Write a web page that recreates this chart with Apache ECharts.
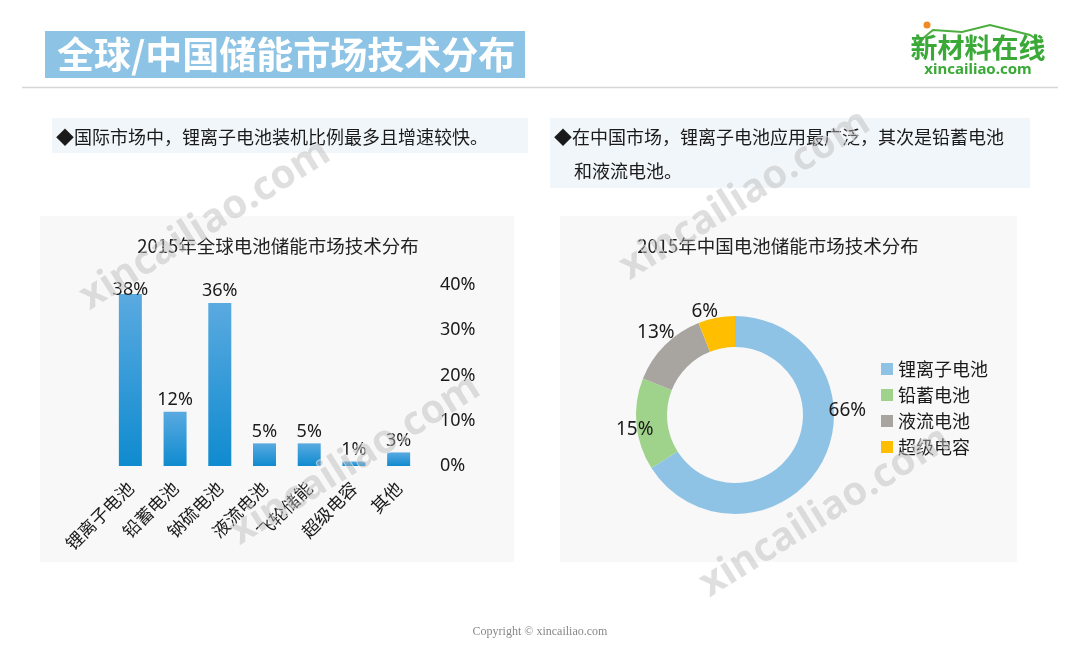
<!DOCTYPE html>
<html><head><meta charset="utf-8">
<script src="https://cdn.jsdelivr.net/npm/echarts@6/dist/echarts.min.js"></script>
<style>html,body{margin:0;padding:0;background:#fff}#c{width:1080px;height:648px}</style>
</head><body><div id="c"></div>
<script>
const pageTitle = '全球/中国储能市场技术分布';
const note1 = '◆国际市场中，锂离子电池装机比例最多且增速较快。';
const note2a = '◆在中国市场，锂离子电池应用最广泛，其次是铅蓄电池';
const note2b = '和液流电池。';
const barTitle = '2015年全球电池储能市场技术分布';
const barCategories = ['锂离子电池','铅蓄电池','钠硫电池','液流电池','飞轮储能','超级电容','其他'];
const barValues = [38, 12, 36, 5, 5, 1, 3];
const pieTitle = '2015年中国电池储能市场技术分布';
const pieNames = ['锂离子电池','铅蓄电池','液流电池','超级电容'];
const pieValues = [66, 15, 13, 6];
const pieColors = ['#8fc3e6','#9fd38b','#a8a5a1','#ffbf00'];
const pieLabelOffsets = [[0,-53],[19,5],[12,-11],[7,-4]];

const CJK = '"Noto Sans CJK SC", "Noto Sans", sans-serif';
const NUM = '"Noto Sans", "Noto Sans CJK SC", sans-serif';

const chart = echarts.init(document.getElementById('c'));
const wm = (x, y) => ({
  type: 'text', x: x, y: y, rotation: Math.PI * 32 / 180, z: 100,
  style: { text: 'xincailiao.com', font: 'bold 40px ' + NUM, fill: 'rgba(185,185,185,0.45)',
    stroke: 'rgba(255,255,255,0.6)', lineWidth: 1, textAlign: 'center', textVerticalAlign: 'middle' }
});
chart.setOption({
  animation: false,
  backgroundColor: '#ffffff',
  title: [
    { text: barTitle, left: 273, top: 232, textAlign: 'center',
      textStyle: { fontFamily: CJK, fontSize: 18.5, fontWeight: 'normal', color: '#222' } },
    { text: pieTitle, left: 773, top: 232, textAlign: 'center',
      textStyle: { fontFamily: CJK, fontSize: 18.5, fontWeight: 'normal', color: '#222' } }
  ],
  graphic: [
    { type: 'rect', z: -10, shape: { x: 45, y: 31, width: 480, height: 47 }, style: { fill: '#8dc3e4' } },
    { type: 'text', z: -5, x: 57, y: 55, style: { text: pageTitle, font: 'bold 37px ' + CJK, fill: '#fff', textVerticalAlign: 'middle' } },
    { type: 'line', z: -10, shape: { x1: 22, y1: 87.5, x2: 1058, y2: 87.5 }, style: { stroke: '#d6d6d6', lineWidth: 1.5 } },
    // logo
    { type: 'circle', z: -5, shape: { cx: 927, cy: 25, r: 3.5 }, style: { fill: '#f08a24' } },
    { type: 'polyline', z: -5, shape: { points: [[916,44],[933,30],[962,32],[990,25],[1030,35],[1042,43]] }, style: { stroke: '#4cae3f', lineWidth: 2, fill: null } },
    { type: 'text', z: -5, x: 978, y: 48, style: { text: '新材料在线', font: 'bold 27px ' + CJK, fill: '#3aa937', textAlign: 'center', textVerticalAlign: 'middle' } },
    { type: 'text', z: -5, x: 978, y: 70, style: { text: 'xincailiao.com', font: 'bold 15px ' + NUM, fill: '#3aa937', textAlign: 'center', textVerticalAlign: 'middle' } },
    // notes
    { type: 'rect', z: -10, shape: { x: 52, y: 118, width: 476, height: 35 }, style: { fill: '#f1f6fa' } },
    { type: 'text', z: -5, x: 56, y: 137, style: { text: note1, font: '18px ' + CJK, fill: '#1a1a1a', textVerticalAlign: 'middle' } },
    { type: 'rect', z: -10, shape: { x: 550, y: 118, width: 480, height: 70 }, style: { fill: '#f1f6fa' } },
    { type: 'text', z: -5, x: 554, y: 137, style: { text: note2a, font: '18px ' + CJK, fill: '#1a1a1a', textVerticalAlign: 'middle' } },
    { type: 'text', z: -5, x: 574, y: 171, style: { text: note2b, font: '18px ' + CJK, fill: '#1a1a1a', textVerticalAlign: 'middle' } },
    // panels
    { type: 'rect', z: -10, shape: { x: 40, y: 216, width: 474, height: 346 }, style: { fill: '#f8f8f8' } },
    { type: 'rect', z: -10, shape: { x: 560, y: 216, width: 457, height: 346 }, style: { fill: '#f8f8f8' } },
    // footer
    { type: 'text', z: -5, x: 540, y: 632, style: { text: 'Copyright © xincailiao.com', font: '12px "Liberation Serif", serif', fill: '#888', textAlign: 'center', textVerticalAlign: 'middle' } },
    // watermarks
    wm(205, 225), wm(355, 460), wm(745, 195), wm(825, 512)
  ],
  grid: { left: 108, top: 285, width: 313, height: 181 },
  xAxis: {
    type: 'category', data: barCategories,
    axisLine: { show: false }, axisTick: { show: false },
    axisLabel: { rotate: 45, interval: 0, margin: 19, fontFamily: CJK, fontSize: 17.5, color: '#1a1a1a' }
  },
  yAxis: {
    type: 'value', position: 'right', min: 0, max: 40, interval: 10,
    splitLine: { show: false }, axisLine: { show: false }, axisTick: { show: false },
    axisLabel: { formatter: '{value}%', margin: 19, fontFamily: NUM, fontSize: 18, color: '#1a1a1a' }
  },
  legend: {
    orient: 'vertical', left: 876, top: 355, itemWidth: 12, itemHeight: 12, itemGap: 8,
    icon: 'rect', data: pieNames,
    textStyle: { fontFamily: CJK, fontSize: 18, color: '#1a1a1a' }
  },
  series: [
    {
      type: 'bar', barWidth: 23,
      data: barValues.map((v, i) => i === 0 ? { value: v, label: { offset: [0, 8] } } : v),
      itemStyle: { color: new echarts.graphic.LinearGradient(0, 0, 0, 1, [
        { offset: 0, color: '#5aaae0' }, { offset: 1, color: '#0f8bcf' }]) },
      label: { show: true, position: 'top', distance: 3, formatter: '{c}%', fontFamily: NUM, fontSize: 18, color: '#1a1a1a' }
    },
    {
      type: 'pie', center: [735, 415], radius: [68, 99], startAngle: 90, clockwise: true,
      data: pieNames.map((n, i) => ({ name: n, value: pieValues[i], itemStyle: { color: pieColors[i] },
        label: { offset: pieLabelOffsets[i] } })),
      label: { show: true, position: 'outside', formatter: '{c}%', fontFamily: NUM, fontSize: 19, color: '#1a1a1a' },
      labelLine: { show: false, length: 2, length2: 0 },
      emphasis: { disabled: true }
    }
  ]
});
</script></body></html>
